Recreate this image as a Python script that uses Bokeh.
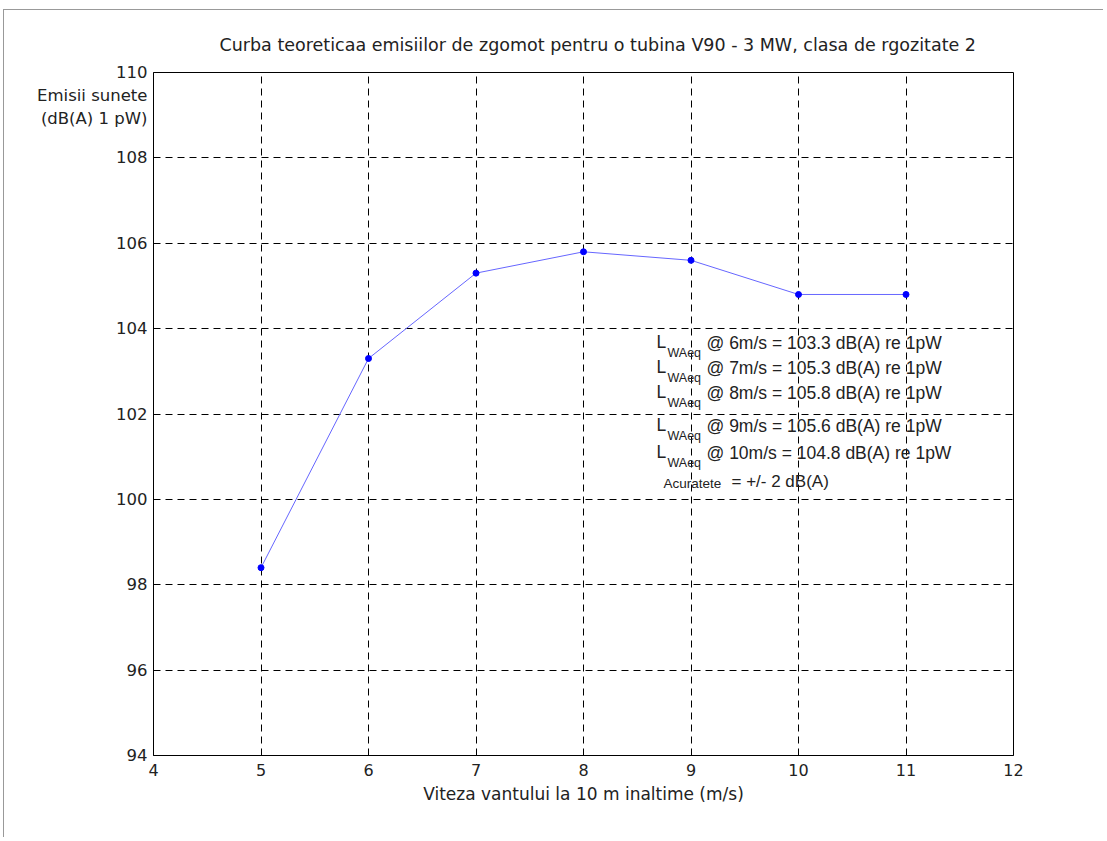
from bokeh.plotting import figure
from bokeh.models import Label, FixedTicker, Range1d, Title, AllLabels
from bokeh.embed import file_html
from bokeh.resources import INLINE

# data
wind_speed = [5, 6, 7, 8, 9, 10, 11]
sound_power = [98.4, 103.3, 105.3, 105.8, 105.6, 104.8, 104.8]
x_ticks = [4, 5, 6, 7, 8, 9, 10, 11, 12]
y_ticks = [94, 96, 98, 100, 102, 104, 106, 108, 110]
title_text = "Curba teoreticaa emisiilor de zgomot pentru o tubina V90 - 3 MW, clasa de rgozitate 2"
x_label = "Viteza vantului la 10 m inaltime (m/s)"
y_label_lines = ["Emisii sunete", "(dB(A) 1 pW)"]
note_speeds = ["6m/s", "7m/s", "8m/s", "9m/s", "10m/s"]
note_values = ["103.3", "105.3", "105.8", "105.6", "104.8"]
accuracy_text = "Acuratete"
accuracy_value = "= +/- 2 dB(A)"

FONT = "Liberation Sans"
TFONT = "DejaVu Sans"

X0, X1, Y0, Y1 = 4, 12, 94, 110
W, H = 1100, 828
FL, FT, FW, FH = 149, 62, 860, 683

p = figure(width=W, height=H, output_backend="svg", toolbar_location=None,
           x_range=Range1d(X0, X1), y_range=Range1d(Y0, Y1),
           min_border_left=FL, min_border_top=FT,
           min_border_right=W - FL - FW, min_border_bottom=H - FT - FH)
p.styles = {"margin-left": "3px", "margin-top": "9px",
            "border-top": "1px solid #999", "border-left": "1px solid #999"}

# page px (reference picture) -> data coords
PX0, PY0 = 154, 72
def dx(px):
    return X0 + (px - PX0) / FW * (X1 - X0)

def dy(py):
    return Y1 - (py - PY0) / FH * (Y1 - Y0)

p.outline_line_color = "black"
p.outline_line_width = 1
for ax in (p.xaxis[0], p.yaxis[0]):
    ax.axis_line_color = "black"
    ax.major_tick_in = 0
    ax.major_tick_out = 0
    ax.minor_tick_in = 0
    ax.minor_tick_out = 0
    ax.major_label_text_font = TFONT
    ax.major_label_text_font_size = "16px"
    ax.major_label_text_color = "#222"
    ax.major_label_policy = AllLabels()
p.yaxis.major_label_text_font_size = "16.5px"

# y-axis title lines placed as extra (gridless) tick labels at the top of the axis
ylab_pos = [round(dy(95), 3), round(dy(118), 3)]
p.xaxis.ticker = FixedTicker(ticks=x_ticks)
p.yaxis.ticker = FixedTicker(ticks=y_ticks + ylab_pos)
p.yaxis.major_label_overrides = {ylab_pos[0]: y_label_lines[0], ylab_pos[1]: y_label_lines[1]}
p.xgrid.ticker = FixedTicker(ticks=x_ticks)
p.ygrid.ticker = FixedTicker(ticks=y_ticks)

p.xaxis.major_label_standoff = 8
p.yaxis.major_label_standoff = 6
p.xaxis.axis_label = x_label
p.xaxis.axis_label_text_font = TFONT
p.xaxis.axis_label_text_font_size = "17px"
p.xaxis.axis_label_text_font_style = "normal"
p.xaxis.axis_label_text_color = "#222"
p.xaxis.axis_label_standoff = 5

p.xgrid.grid_line_color = "black"
p.ygrid.grid_line_color = "black"
p.xgrid.grid_line_dash = "7 5"
p.ygrid.grid_line_dash = "7 5"
p.xgrid.grid_line_width = 1
p.ygrid.grid_line_width = 1

p.line(wind_speed, sound_power, line_color="#6666ff", line_width=1)
p.scatter(wind_speed, sound_power, size=6, color="#0000ff")

# title
p.add_layout(Title(text=title_text, text_font=TFONT, text_font_size="17.5px",
                   text_font_style="normal", text_color="#222", align="left",
                   offset=66, standoff=35), "above")

# annotation block
rows_y = [342, 367, 392, 425, 452]
for i, (s, v) in enumerate(zip(note_speeds, note_values)):
    yy = rows_y[i]
    p.add_layout(Label(x=dx(657), y=dy(yy - 1), text="L", text_font=FONT, text_font_size="17.5px",
                       text_baseline="middle", text_color="#222"))
    p.add_layout(Label(x=dx(668), y=dy(yy + 10), text="WAeq", text_font=FONT, text_font_size="12.5px",
                       text_baseline="middle", text_color="#222"))
    p.add_layout(Label(x=dx(707), y=dy(yy), text="@ %s = %s dB(A) re 1pW" % (s, v), text_font=FONT,
                       text_font_size="17.5px", text_baseline="middle", text_color="#222"))
p.add_layout(Label(x=dx(664), y=dy(483), text=accuracy_text, text_font=FONT, text_font_size="13.5px",
                   text_baseline="middle", text_color="#222"))
p.add_layout(Label(x=dx(732), y=dy(481), text=accuracy_value, text_font=FONT, text_font_size="17px",
                   text_baseline="middle", text_color="#222"))

open("out.html", "w").write(file_html(p, INLINE))
